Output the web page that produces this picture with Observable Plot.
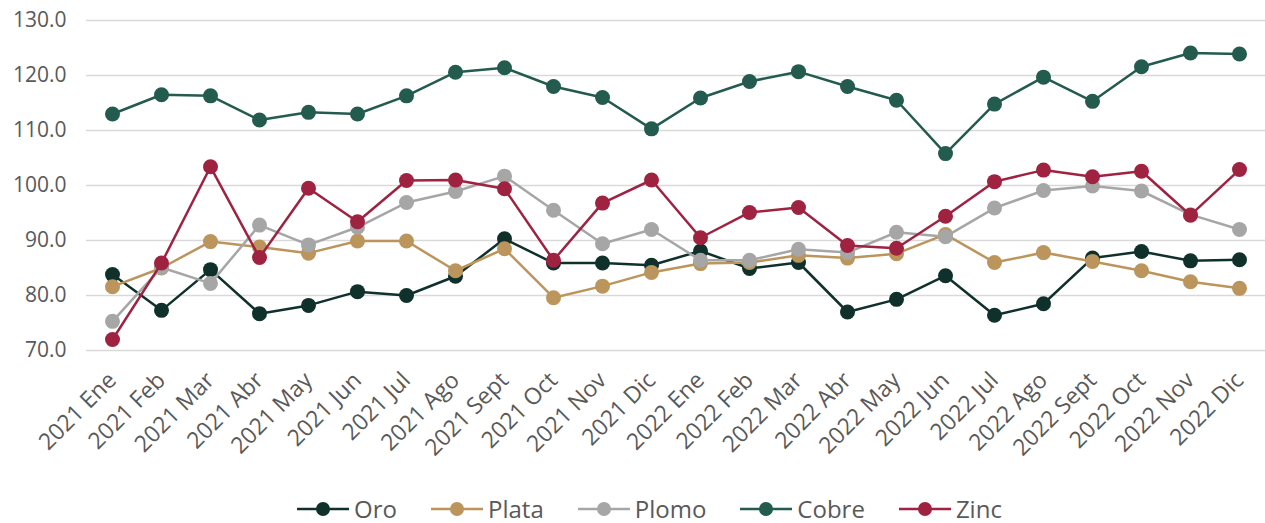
<!DOCTYPE html>
<html>
<head>
<meta charset="utf-8">
<script src="https://cdn.jsdelivr.net/npm/d3@7"></script>
<script src="https://cdn.jsdelivr.net/npm/@observablehq/plot@0.6"></script>
<style>
  html, body { margin: 0; padding: 0; background: #fff; }
  body { width: 1265px; height: 523px; overflow: hidden; font-family: "Open Sans", sans-serif; }
  #legend { display: flex; justify-content: center; align-items: center; height: 43px; padding-left: 34px; padding-top: 14px; box-sizing: border-box; width: 1265px; }
  .item { display: flex; align-items: center; margin: 0 17px; font-size: 24px; color: #595959; }
  .item svg { margin-right: 5px; }
</style>
</head>
<body>
<div id="chart"></div>
<div id="legend"></div>
<script>
const months = ["2021 Ene","2021 Feb","2021 Mar","2021 Abr","2021 May","2021 Jun","2021 Jul","2021 Ago","2021 Sept","2021 Oct","2021 Nov","2021 Dic",
                "2022 Ene","2022 Feb","2022 Mar","2022 Abr","2022 May","2022 Jun","2022 Jul","2022 Ago","2022 Sept","2022 Oct","2022 Nov","2022 Dic"];
const oro   = [83.8,77.3,84.7,76.7,78.2,80.7,80.0,83.5,90.3,85.9,85.9,85.5,88.1,84.9,86.0,77.0,79.3,83.6,76.4,78.5,86.8,88.0,86.3,86.5];
const plata = [81.6,85.0,89.8,88.8,87.7,89.9,89.9,84.5,88.5,79.6,81.7,84.2,85.8,86.0,87.3,86.8,87.6,91.1,86.0,87.8,86.2,84.5,82.5,81.3];
const plomo = [75.3,85.1,82.2,92.8,89.2,92.4,96.9,98.9,101.7,95.5,89.4,92.0,86.4,86.4,88.4,87.8,91.5,90.7,95.9,99.1,99.9,99.0,94.7,92.0];
const cobre = [113.0,116.5,116.3,111.9,113.3,113.0,116.3,120.6,121.4,118.0,116.0,110.3,115.9,118.9,120.7,118.0,115.5,105.8,114.8,119.7,115.3,121.6,124.1,123.9];
const zinc  = [72.0,85.9,103.4,86.9,99.5,93.4,100.9,101.0,99.4,86.4,96.8,101.0,90.5,95.1,96.0,89.1,88.6,94.4,100.7,102.8,101.6,102.6,94.6,102.9];
const seriesNames = ["Oro","Plata","Plomo","Cobre","Zinc"];
const seriesColors = ["#10312b","#bc955c","#a6a6a6","#235b4e","#9f2241"];
const yTicks = [70,80,90,100,110,120,130];

const seriesValues = [oro, plata, plomo, cobre, zinc];
const data = seriesNames.flatMap((s, i) => seriesValues[i].map((v, j) => ({series: s, month: months[j], value: v})));

const marks = [
  Plot.gridY(yTicks, {stroke: "#d9d9d9", strokeOpacity: 1, strokeWidth: 1.5}),
  Plot.axisY(yTicks, {tickSize: 0, tickPadding: 20, tickFormat: d3.format(".1f"), fontSize: 21, fill: "#595959"}),
  Plot.axisX({tickSize: 0, tickRotate: -45, tickPadding: 26, dx: 0, fontSize: 23, fill: "#595959"})
];
for (const s of seriesNames) {
  const d = data.filter(r => r.series === s);
  marks.push(Plot.line(d, {x: "month", y: "value", stroke: "series", strokeWidth: 2.5}));
  marks.push(Plot.dot(d, {x: "month", y: "value", fill: "series", r: 7.5}));
}

const chart = Plot.plot({
  width: 1265,
  height: 480,
  marginTop: 20,
  marginBottom: 130,
  marginLeft: 86,
  marginRight: 0,
  style: {fontFamily: "'Open Sans', sans-serif", color: "#595959", background: "#fff"},
  x: {type: "point", domain: months, padding: 0.5, label: null},
  y: {domain: [70, 130], label: null},
  color: {domain: seriesNames, range: seriesColors},
  marks
});
document.getElementById("chart").appendChild(chart);

const legend = document.getElementById("legend");
seriesNames.forEach((s, i) => {
  const item = document.createElement("div");
  item.className = "item";
  item.innerHTML = `<svg width="52" height="18"><line x1="0" x2="52" y1="9" y2="9" stroke="${seriesColors[i]}" stroke-width="2.5"/><circle cx="26" cy="9" r="7" fill="${seriesColors[i]}"/></svg><span>${s}</span>`;
  legend.appendChild(item);
});
</script>
</body>
</html>
